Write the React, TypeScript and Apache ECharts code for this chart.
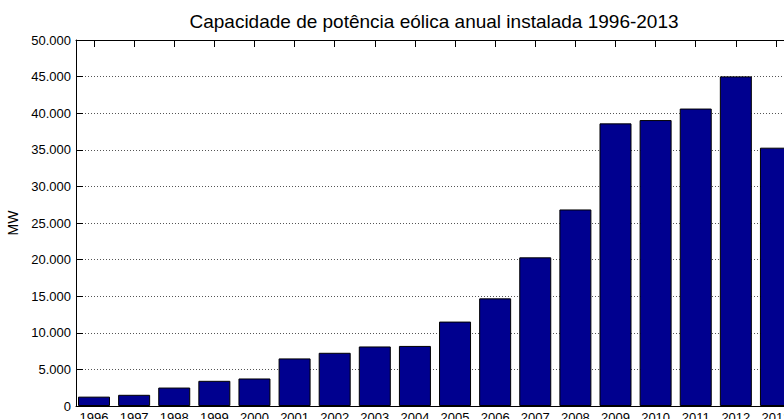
import React, { useEffect, useRef } from "react";
import * as echarts from "echarts";

const years = [
  "1996", "1997", "1998", "1999", "2000", "2001", "2002", "2003", "2004",
  "2005", "2006", "2007", "2008", "2009", "2010", "2011", "2012", "2013",
];
const capacityMW = [
  1280, 1530, 2520, 3440, 3760, 6500, 7270, 8133, 8207,
  11531, 14703, 20310, 26850, 38610, 39062, 40635, 45030, 35289,
];
const yTicks = [0, 5000, 10000, 15000, 20000, 25000, 30000, 35000, 40000, 45000, 50000];
const titleText = "Capacidade de potência eólica anual instalada 1996-2013";
const yName = "MW";

const fmt = (v: number) => {
  if (v === 0) return "0";
  const s = String(Math.round(v));
  return s.replace(/\B(?=(\d{3})+(?!\d))/g, ".");
};

export default function App() {
  const ref = useRef<HTMLDivElement>(null);
  useEffect(() => {
    if (!ref.current) return;
    const chart = echarts.init(ref.current, undefined, { renderer: "svg" });
    const xPositions = years.map((_, i) => i + 1);
    const font = "Arial, 'Liberation Sans', Helvetica, sans-serif";
    chart.setOption({
      animation: false,
      backgroundColor: "#fff",
      textStyle: { fontFamily: font },
      graphic: [
        {
          type: "text",
          x: 434,
          y: 21,
          style: {
            text: titleText,
            font: `19px ${font}`,
            fill: "#000",
            textAlign: "center",
            textVerticalAlign: "middle",
          },
        },
      ],
      grid: {
        left: 76,
        top: 40,
        width: 718,
        height: 366,
        containLabel: false,
        outerBoundsMode: "none",
      },
      xAxis: [
        {
          type: "value",
          position: "bottom",
          min: 0.551,
          max: 18.45,
          axisLine: { show: true, onZero: false, lineStyle: { color: "#000", width: 1 } },
          axisTick: { show: true, inside: true, length: 7, customValues: xPositions, lineStyle: { color: "#000" } },
          axisLabel: {
            show: true,
            customValues: xPositions,
            formatter: (v: number) => years[Math.round(v) - 1] ?? "",
            color: "#000",
            fontSize: 13,
            margin: 5,
            fontFamily: font,
          },
          splitLine: { show: false },
        },
        {
          type: "value",
          position: "top",
          min: 0.551,
          max: 18.45,
          axisLine: { show: true, onZero: false, lineStyle: { color: "#000", width: 1 } },
          axisTick: { show: true, inside: true, length: 7, customValues: xPositions, lineStyle: { color: "#000" } },
          axisLabel: { show: false },
          splitLine: { show: false },
        },
      ],
      yAxis: [
        {
          type: "value",
          position: "left",
          min: 0,
          max: 50000,
          interval: 5000,
          name: yName,
          nameLocation: "middle",
          nameGap: 47,
          nameRotate: 90,
          nameTextStyle: { color: "#000", fontSize: 14, fontFamily: font },
          axisLine: { show: true, onZero: false, lineStyle: { color: "#000", width: 1 } },
          axisTick: { show: true, inside: true, length: 7, lineStyle: { color: "#000" } },
          axisLabel: {
            color: "#000",
            fontSize: 13,
            margin: 5,
            fontFamily: font,
            customValues: yTicks,
            formatter: (v: number) => fmt(v),
          },
          splitLine: { show: true, lineStyle: { color: "#555", type: [1, 2], width: 1 } },
        },
      ],
      series: [
        {
          type: "bar",
          xAxisIndex: 0,
          yAxisIndex: 0,
          barWidth: 32,
          data: capacityMW.map((v, i) => [xPositions[i], v]),
          itemStyle: { color: "#00008F", borderColor: "#000", borderWidth: 1 },
        },
      ],
    });
    return () => chart.dispose();
  }, []);
  return (
    <div
      ref={ref}
      style={{ position: "fixed", left: 0, top: 0, width: 784, height: 419, background: "#fff" }}
    />
  );
}
